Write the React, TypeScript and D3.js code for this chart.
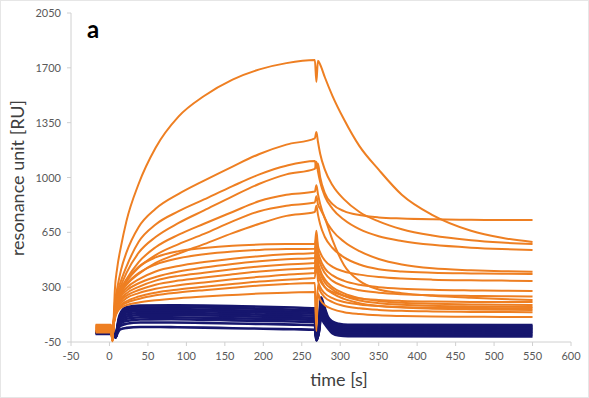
import React from 'react';
import * as d3 from 'd3';

const X_TICKS = [-50, 0, 50, 100, 150, 200, 250, 300, 350, 400, 450, 500, 550, 600];
const Y_TICKS = [-50, 300, 650, 1000, 1350, 1700, 2050];
const X_TITLE = 'time [s]';
const Y_TITLE = 'resonance unit [RU]';
const PANEL_LABEL = 'a';

// baseline segment (t = -18 .. 2), injection dip (t = 4)
const orangeBase = [40, 55, 30, 45, 20, 60, 35, 50, 25, 40, 15, 55, 30, 45, 20, 35, 10];
const orangeDip = [-40, -30, -45, -25, -35, -20, -40, -30, -45, -25, -35, -30, -40, -20, -45, -30, -40];

const ASSOC_T = [5, 7, 10, 15, 22, 38, 60, 90, 123, 160, 195, 230, 267];
const orangeAssoc = [
  [40, 280, 420, 560, 720, 960, 1190, 1390, 1520, 1625, 1690, 1730, 1750],
  [40, 200, 290, 410, 520, 684, 800, 895, 980, 1070, 1150, 1210, 1250],
  [40, 180, 260, 340, 430, 590, 700, 785, 860, 945, 1020, 1075, 1105],
  [40, 170, 240, 310, 390, 520, 620, 710, 790, 880, 960, 1020, 1055],
  [40, 160, 230, 290, 350, 460, 555, 635, 705, 780, 850, 890, 910],
  [40, 150, 220, 280, 335, 425, 505, 575, 640, 720, 785, 820, 840],
  [40, 140, 210, 265, 315, 385, 455, 515, 575, 645, 705, 755, 780],
  [40, 150, 225, 290, 345, 430, 490, 530, 550, 565, 572, 575, 575],
  [40, 140, 215, 275, 320, 390, 445, 485, 510, 528, 538, 543, 545],
  [40, 130, 200, 255, 295, 350, 400, 435, 460, 482, 498, 510, 518],
  [40, 130, 190, 240, 278, 325, 365, 400, 425, 448, 466, 478, 486],
  [40, 120, 180, 225, 260, 302, 342, 372, 392, 414, 432, 445, 454],
  [40, 120, 170, 215, 245, 282, 316, 342, 362, 382, 400, 413, 422],
  [40, 110, 160, 200, 230, 262, 290, 312, 330, 350, 366, 380, 390],
  [40, 110, 150, 185, 210, 240, 265, 285, 302, 320, 336, 348, 358],
  [40, 100, 145, 178, 200, 225, 248, 266, 281, 296, 310, 320, 326],
  [40, 100, 140, 168, 185, 202, 216, 229, 240, 250, 259, 265, 269],
];
// value at t = 269 (injection-end artefact)
const orangeSpike = [1610, 1290, 1060, 1100, 950, 880, 820, 660, 620, 600, 580, 560, 520, 500, 480, 60, 20];

const DISS_T = [271, 274, 280, 290, 305, 325, 350, 380, 420, 470, 510, 550];
const orangeDiss = [
  [1745, 1720, 1640, 1520, 1370, 1200, 1050, 890, 760, 660, 615, 588],
  [1230, 1150, 1050, 950, 860, 780, 720, 670, 630, 600, 585, 575],
  [1090, 1000, 900, 830, 785, 760, 745, 738, 733, 730, 729, 728],
  [1040, 970, 880, 800, 730, 670, 625, 595, 570, 552, 543, 537],
  [895, 830, 740, 660, 590, 530, 480, 445, 420, 408, 402, 398],
  [830, 800, 740, 600, 440, 340, 285, 262, 245, 232, 224, 218],
  [765, 700, 620, 550, 490, 445, 415, 400, 392, 388, 386, 384],
  [565, 520, 470, 430, 400, 380, 365, 355, 348, 344, 342, 340],
  [535, 480, 420, 375, 340, 315, 300, 290, 283, 279, 277, 275],
  [505, 450, 390, 340, 305, 280, 265, 255, 248, 244, 242, 240],
  [470, 410, 350, 300, 260, 230, 212, 200, 194, 190, 188, 186],
  [440, 390, 330, 285, 245, 215, 198, 188, 181, 177, 175, 173],
  [410, 360, 300, 260, 225, 198, 180, 170, 163, 158, 156, 154],
  [380, 340, 300, 270, 245, 228, 218, 212, 208, 206, 205, 205],
  [345, 300, 260, 230, 205, 190, 180, 174, 170, 167, 166, 165],
  [315, 275, 235, 205, 180, 165, 155, 149, 145, 142, 141, 140],
  [260, 220, 185, 160, 140, 128, 120, 116, 113, 111, 110, 110],
];

// navy (reference / non-binding) curves
const navyBase = [20, 15, 18, 10, 14, 8, 12, 5, 10, 2];
const NAVY_ASSOC_T = [8, 10, 12, 15, 22, 40, 80, 123, 160, 200, 240, 267];
const navyAssoc = [
  [-20, 40, 100, 140, 172, 182, 184, 182, 179, 175, 170, 165],
  [-20, 35, 90, 130, 160, 170, 172, 170, 166, 162, 156, 152],
  [-20, 30, 85, 120, 148, 158, 160, 157, 153, 149, 145, 142],
  [-20, 30, 80, 112, 138, 148, 150, 146, 142, 138, 134, 130],
  [-20, 25, 70, 100, 125, 135, 136, 133, 129, 125, 121, 118],
  [-20, 25, 65, 92, 112, 122, 122, 120, 116, 112, 108, 105],
  [-20, 20, 58, 82, 98, 108, 108, 105, 102, 98, 95, 92],
  [-20, 15, 50, 70, 84, 94, 95, 92, 88, 85, 81, 78],
  [-20, 10, 40, 55, 66, 74, 74, 72, 68, 65, 61, 58],
  [-20, 0, 20, 32, 40, 46, 45, 42, 38, 35, 31, 28],
];
const NAVY_DISS_T = [269, 272, 275, 279, 284, 290, 298, 310, 550];
const navyDiss = [
  [-20, 40, 235, 180, 110, 80, 66, 60, 58],
  [-20, 36, 220, 168, 102, 72, 58, 52, 50],
  [-25, 32, 205, 156, 94, 64, 50, 44, 42],
  [-25, 28, 190, 144, 86, 56, 43, 37, 35],
  [-30, 24, 175, 132, 78, 48, 35, 30, 28],
  [-30, 20, 160, 120, 70, 40, 27, 22, 20],
  [-35, 16, 145, 108, 62, 32, 19, 14, 12],
  [-35, 12, 130, 96, 54, 24, 11, 7, 5],
  [-40, 8, 115, 84, 46, 14, 1, -3, -5],
  [-40, 4, 100, 72, 38, 4, -9, -13, -15],
];

const W = 589;
const H = 398;
const ORANGE = '#EE7F22';
const NAVY = '#16166E';

export default function App() {
  const x = d3.scaleLinear().domain([-50, 600]).range([71, 571]);
  const y = d3.scaleLinear().domain([-50, 2050]).range([342, 13]);
  const line = d3
    .line<[number, number]>()
    .x((d) => x(d[0]))
    .y((d) => y(d[1]))
    .curve(d3.curveMonotoneX);

  const orangePaths = orangeAssoc.map((assoc, i) => {
    const pts: [number, number][] = [
      [-18, orangeBase[i]],
      [2, orangeBase[i]],
      [4, orangeDip[i]],
      ...ASSOC_T.map((t, j) => [t, assoc[j]] as [number, number]),
      [269, orangeSpike[i]],
      ...DISS_T.map((t, j) => [t, orangeDiss[i][j]] as [number, number]),
    ];
    return line(pts) as string;
  });

  const navyPaths = navyAssoc.map((assoc, i) => {
    const pts: [number, number][] = [
      [-18, navyBase[i]],
      [5, navyBase[i]],
      ...NAVY_ASSOC_T.map((t, j) => [t, assoc[j]] as [number, number]),
      ...NAVY_DISS_T.map((t, j) => [t, navyDiss[i][j]] as [number, number]),
    ];
    return line(pts) as string;
  });

  const font = "Lato, 'Open Sans', sans-serif";

  return (
    <svg
      width={W}
      height={H}
      style={{ position: 'absolute', left: 0, top: 0, background: '#fff' }}
      fontFamily={font}
    >
      <rect x={0.5} y={0.5} width={W - 1} height={H - 1} fill="#fff" stroke="#e6e6e6" />
      {/* axes */}
      <line x1={x(-50)} x2={x(-50)} y1={y(2050)} y2={y(-50)} stroke="#d0d0d0" />
      <line x1={x(-50)} x2={x(600)} y1={y(-50)} y2={y(-50)} stroke="#d0d0d0" />
      {Y_TICKS.map((v) => (
        <g key={'y' + v}>
          <line x1={x(-50) - 4} x2={x(-50)} y1={y(v)} y2={y(v)} stroke="#d0d0d0" />
          <text x={61} y={y(v) + 4} textAnchor="end" fontSize={11} fill="#595959">
            {v}
          </text>
        </g>
      ))}
      {X_TICKS.map((v) => (
        <g key={'x' + v}>
          <line x1={x(v)} x2={x(v)} y1={y(-50)} y2={y(-50) + 4} stroke="#d0d0d0" />
          <text x={x(v)} y={360} textAnchor="middle" fontSize={11} fill="#595959">
            {v}
          </text>
        </g>
      ))}
      {/* curves */}
      {navyPaths.map((d, i) => (
        <path key={'n' + i} d={d} fill="none" stroke={NAVY} strokeWidth={2.6} strokeLinejoin="round" />
      ))}
      {orangePaths.map((d, i) => (
        <path key={'o' + i} d={d} fill="none" stroke={ORANGE} strokeWidth={2} strokeLinejoin="round" />
      ))}
      {/* titles */}
      <text
        transform={`translate(24,178) rotate(-90)`}
        textAnchor="middle"
        fontSize={18}
        fill="#404040"
      >
        {Y_TITLE}
      </text>
      <text x={339} y={386} textAnchor="middle" fontSize={18} fill="#404040">
        {X_TITLE}
      </text>
      <text x={87} y={38} fontSize={24} fontWeight="bold" fill="#000">
        {PANEL_LABEL}
      </text>
    </svg>
  );
}
